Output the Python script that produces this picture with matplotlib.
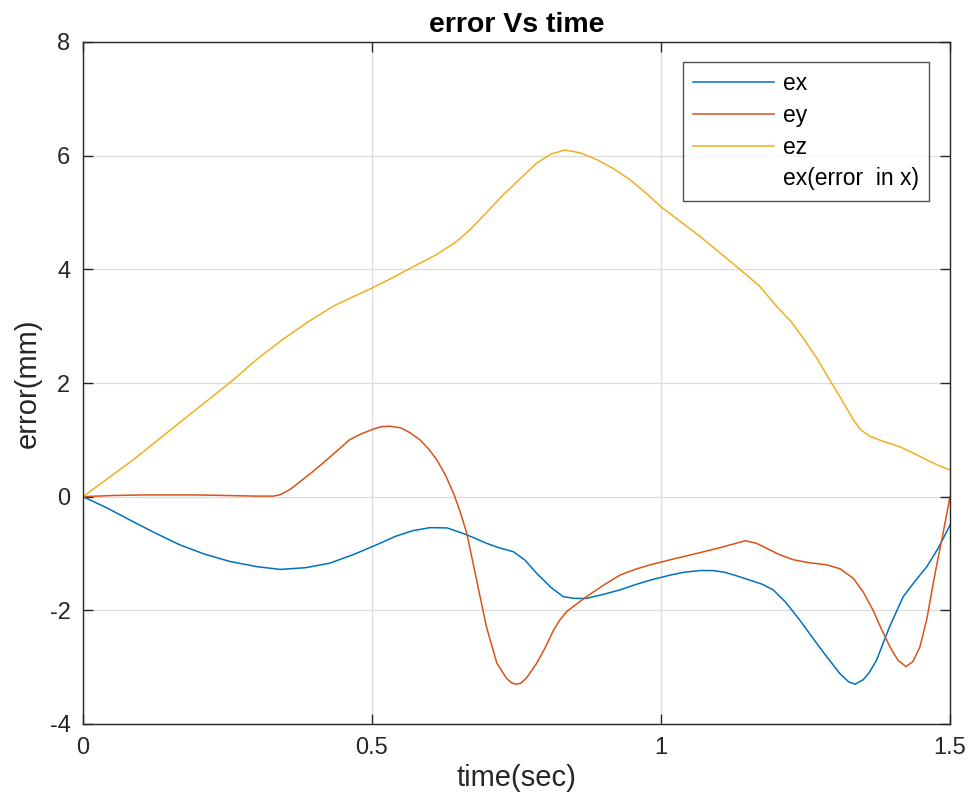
import matplotlib
matplotlib.use("Agg")
import matplotlib.pyplot as plt
from matplotlib.lines import Line2D

plt.rcParams['font.family'] = ['Liberation Sans', 'DejaVu Sans']
plt.rcParams['axes.unicode_minus'] = False

# ex: position error along x
t_ex = [0, 0.04, 0.081, 0.125, 0.168, 0.21, 0.254, 0.30, 0.341, 0.385, 0.427,
        0.47, 0.514, 0.54, 0.57, 0.60, 0.63, 0.664, 0.698, 0.72, 0.745, 0.765,
        0.785, 0.81, 0.831, 0.85, 0.871, 0.90, 0.929, 0.955, 0.981, 1.016,
        1.04, 1.0675, 1.09, 1.11, 1.13, 1.154, 1.175, 1.194, 1.215, 1.24,
        1.265, 1.287, 1.31, 1.325, 1.336, 1.35, 1.36, 1.373, 1.395, 1.419,
        1.44, 1.46, 1.48, 1.5]
ex = [0, -0.19, -0.41, -0.64, -0.85, -1.01, -1.14, -1.23, -1.28, -1.25, -1.17,
      -1.01, -0.82, -0.70, -0.60, -0.545, -0.55, -0.67, -0.82, -0.90, -0.97,
      -1.12, -1.35, -1.60, -1.76, -1.79, -1.79, -1.72, -1.64, -1.55, -1.47,
      -1.38, -1.33, -1.30, -1.30, -1.33, -1.39, -1.47, -1.54, -1.64, -1.85,
      -2.17, -2.52, -2.82, -3.12, -3.26, -3.30, -3.22, -3.10, -2.875, -2.30,
      -1.76, -1.48, -1.23, -0.90, -0.50]

# ey: position error along y
t_ey = [0, 0.05, 0.1, 0.15, 0.2, 0.25, 0.3, 0.329, 0.34, 0.35, 0.36, 0.375,
        0.395, 0.415, 0.44, 0.461, 0.48, 0.5, 0.515, 0.531, 0.55, 0.565,
        0.583, 0.598, 0.612, 0.627, 0.641, 0.652, 0.664, 0.681, 0.698, 0.716,
        0.733, 0.742, 0.750, 0.758, 0.768, 0.785, 0.80, 0.814, 0.825, 0.837,
        0.855, 0.871, 0.90, 0.929, 0.955, 0.981, 1.02, 1.0675, 1.105, 1.146,
        1.165, 1.183, 1.205, 1.229, 1.255, 1.287, 1.31, 1.333, 1.35, 1.367,
        1.38, 1.396, 1.41, 1.424, 1.436, 1.448, 1.46, 1.471, 1.48, 1.488, 1.5]
ey = [0, 0.02, 0.03, 0.03, 0.03, 0.02, 0.01, 0.01, 0.03, 0.08, 0.14, 0.26,
      0.42, 0.59, 0.81, 1.0, 1.10, 1.18, 1.23, 1.24, 1.21, 1.13, 1.0, 0.84,
      0.65, 0.38, 0.06, -0.25, -0.645, -1.47, -2.29, -2.93, -3.2, -3.28,
      -3.30, -3.28, -3.18, -2.93, -2.65, -2.35, -2.17, -2.02, -1.88, -1.76,
      -1.56, -1.38, -1.28, -1.20, -1.10, -0.985, -0.89, -0.775, -0.82, -0.91,
      -1.02, -1.11, -1.16, -1.20, -1.27, -1.44, -1.68, -2.0, -2.30, -2.64,
      -2.88, -2.99, -2.90, -2.64, -2.15, -1.52, -1.05, -0.645, 0.0]

# ez: position error along z
t_ez = [0, 0.0865, 0.173, 0.2595, 0.30, 0.346, 0.39, 0.4325, 0.47, 0.5, 0.535,
        0.572, 0.61, 0.6465, 0.67, 0.70, 0.727, 0.757, 0.785, 0.81, 0.834,
        0.86, 0.889, 0.918, 0.946, 0.973, 1.0, 1.0675, 1.134, 1.17, 1.2, 1.225,
        1.246, 1.27, 1.292, 1.31, 1.333, 1.345, 1.362, 1.385, 1.413, 1.44,
        1.46, 1.48, 1.5]
ez = [0, 0.646, 1.35, 2.05, 2.41, 2.77, 3.08, 3.35, 3.53, 3.67, 3.85, 4.05,
      4.25, 4.49, 4.70, 5.02, 5.31, 5.60, 5.87, 6.03, 6.10, 6.05, 5.93, 5.77,
      5.58, 5.35, 5.10, 4.58, 4.02, 3.71, 3.35, 3.08, 2.79, 2.43, 2.05, 1.75,
      1.35, 1.18, 1.06, 0.97, 0.88, 0.75, 0.646, 0.55, 0.47]

x_ticks = [0, 0.5, 1, 1.5]
x_tick_labels = ['0', '0.5', '1', '1.5']
y_ticks = [-4, -2, 0, 2, 4, 6, 8]

colors = ['#0072BD', '#D95319', '#EDB120']
axis_color = '#262626'

fig = plt.figure(figsize=(9.73, 8.10), dpi=100)
ax = fig.add_axes([83 / 973, 1 - 724 / 810, (950 - 83) / 973, (724 - 42) / 810])

ax.plot(t_ex, ex, color=colors[0], lw=1.1, label='ex')
ax.plot(t_ey, ey, color=colors[1], lw=1.1, label='ey')
ax.plot(t_ez, ez, color=colors[2], lw=1.1, label='ez')

ax.set_xlim(0, 1.5)
ax.set_ylim(-4, 8)
ax.set_xticks(x_ticks)
ax.set_xticklabels(x_tick_labels)
ax.set_yticks(y_ticks)

ax.grid(True, color='#dcdcdc', lw=0.9)
ax.set_axisbelow(True)
for s in ax.spines.values():
    s.set_color(axis_color)
    s.set_linewidth(1.0)
ax.tick_params(direction='in', length=7, width=1.0, colors=axis_color,
               labelsize=17, top=True, right=True, pad=9)

ax.set_xlabel('time(sec)', fontsize=21, color=axis_color, labelpad=4)
ax.set_ylabel('error(mm)', fontsize=21, color=axis_color, labelpad=6)
ax.set_title('error Vs time', fontsize=20.5, fontweight='bold', color='black', pad=7)

handles, labels = ax.get_legend_handles_labels()
handles.append(Line2D([], [], color='none'))
labels.append('ex(error  in x)')
leg = ax.legend(handles, labels, loc='upper right', fontsize=16.5,
                bbox_to_anchor=(929 / 973, 1 - 62 / 810),
                bbox_transform=fig.transFigure,
                frameon=True, fancybox=False, handlelength=3.5,
                handletextpad=0.4, labelspacing=0.38, borderpad=0.45,
                borderaxespad=0)
leg.get_frame().set_edgecolor(axis_color)
leg.get_frame().set_linewidth(1.0)

fig.savefig('out.png', dpi=100)
